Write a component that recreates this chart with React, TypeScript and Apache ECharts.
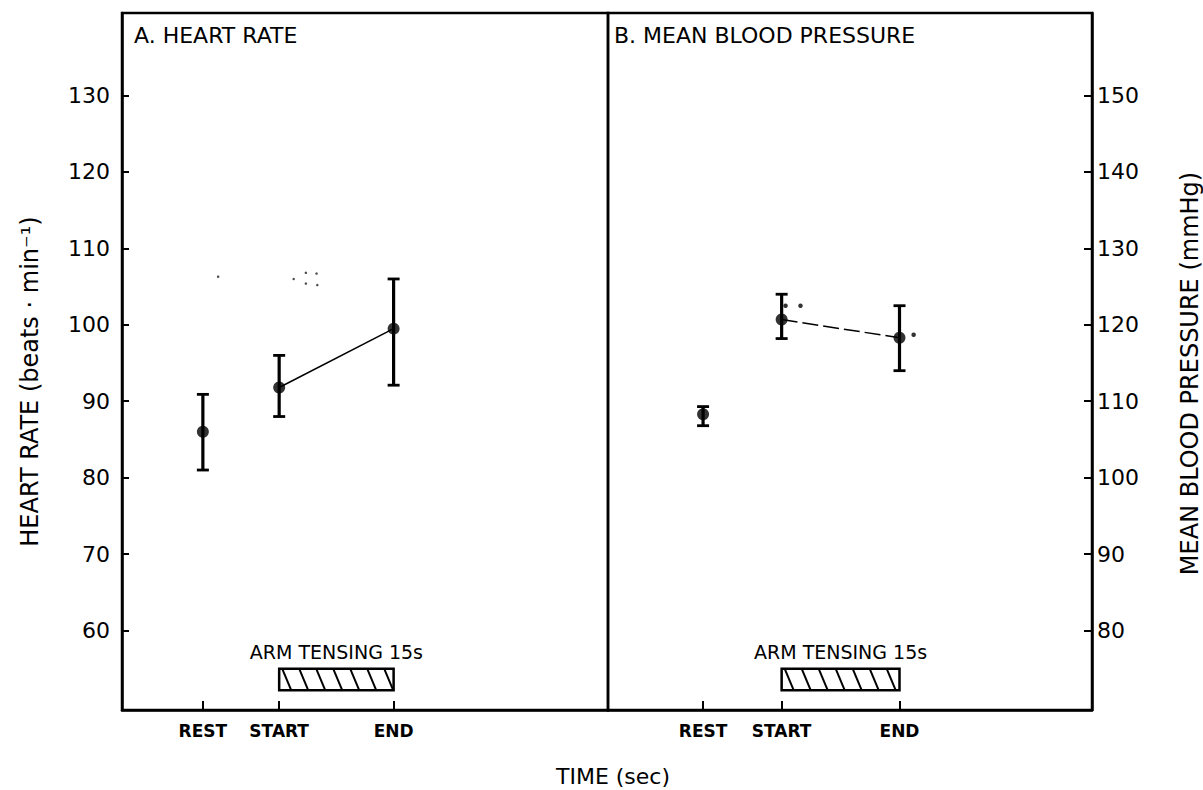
import React, { useEffect, useRef } from 'react';
import * as echarts from 'echarts';

// ---- data ----
const timePoints = [-10, 0, 15];
const timeLabels = ['REST', 'START', 'END'];

const hrMean = [86.0, 91.8, 99.5];
const hrLow = [81.0, 88.0, 92.1];
const hrHigh = [90.9, 96.0, 106.0];

const mbpMean = [108.3, 120.7, 118.3];
const mbpLow = [106.8, 118.2, 114.0];
const mbpHigh = [109.3, 124.0, 122.5];

const hrTicks = [60, 70, 80, 90, 100, 110, 120, 130];
const mbpTicks = [80, 90, 100, 110, 120, 130, 140, 150];

const tensingLabel = 'ARM TENSING 15s';
const tensingSpan = [0, 15];
const hrTensingBand = [52.2, 55.0];
const mbpTensingBand = [72.2, 75.0];

const hrSigMarks = [
  [-8.0, 106.3],
  [1.9, 106.0],
  [3.5, 106.8],
  [3.5, 105.4],
  [4.9, 106.7],
  [5.0, 105.2],
];
const mbpSigMarks = [
  [0.5, 122.5],
  [2.4, 122.5],
  [16.8, 118.7],
];

const FONT = 'DejaVu Sans';

const fmtTime = (v: number) => {
  const i = timePoints.indexOf(v);
  return i >= 0 ? timeLabels[i] : '';
};

function errorBarItem(params: any, api: any) {
  const x = api.value(0);
  const lo = api.coord([x, api.value(1)]);
  const hi = api.coord([x, api.value(2)]);
  const cap = 6;
  return {
    type: 'group',
    children: [
      { type: 'line', shape: { x1: lo[0], y1: lo[1], x2: hi[0], y2: hi[1] }, style: { stroke: '#000', lineWidth: 3.2 } },
      { type: 'line', shape: { x1: hi[0] - cap, y1: hi[1], x2: hi[0] + cap, y2: hi[1] }, style: { stroke: '#000', lineWidth: 2.8 } },
      { type: 'line', shape: { x1: lo[0] - cap, y1: lo[1], x2: lo[0] + cap, y2: lo[1] }, style: { stroke: '#000', lineWidth: 2.8 } },
    ],
  };
}

function hatchItem(params: any, api: any) {
  const p0 = api.coord([api.value(0), api.value(3)]);
  const p1 = api.coord([api.value(1), api.value(2)]);
  const left = p0[0], top = p0[1], right = p1[0], bottom = p1[1];
  const h = bottom - top;
  const sp = 17;
  const dx = 9;
  const children: any[] = [
    { type: 'rect', shape: { x: left, y: top, width: right - left, height: h }, style: { fill: '#fff', stroke: '#000', lineWidth: 2.5 } },
  ];
  for (let xt = left - sp + 3; xt < right; xt += sp) {
    const t0 = Math.max(0, (left - xt) / dx);
    const t1 = Math.min(1, (right - xt) / dx);
    if (t1 <= t0) continue;
    children.push({
      type: 'line',
      shape: { x1: xt + t0 * dx, y1: top + t0 * h, x2: xt + t1 * dx, y2: top + t1 * h },
      style: { stroke: '#000', lineWidth: 2 },
    });
  }
  children.push({
    type: 'text',
    x: (left + right) / 2,
    y: top - 7,
    style: { text: tensingLabel, textAlign: 'center', textVerticalAlign: 'bottom', font: `19px "${FONT}"`, fill: '#000' },
  });
  return { type: 'group', children };
}

function buildOption() {
  const axisLine = { show: true, onZero: false, lineStyle: { color: '#000', width: 2.5 } };
  const xAxisCommon = (gridIndex: number, min: number, max: number) => ({
    gridIndex,
    type: 'value',
    min,
    max,
    axisLine,
    splitLine: { show: false },
    axisTick: { show: true, inside: true, length: 9, customValues: timePoints, lineStyle: { color: '#000', width: 2 } },
    axisLabel: {
      customValues: timePoints,
      formatter: fmtTime,
      fontFamily: FONT,
      fontWeight: 'bold',
      fontSize: 17,
      color: '#000',
      margin: 12,
    },
  });
  const yLabel = { fontFamily: FONT, fontSize: 22, color: '#000' };
  const titleStyle = { fontFamily: FONT, fontSize: 22, fontWeight: 'normal', color: '#000' };
  return {
    animation: false,
    backgroundColor: '#fff',
    title: [
      { text: 'A. HEART RATE', left: 134, top: 24, padding: 0, textStyle: titleStyle },
      { text: 'B. MEAN BLOOD PRESSURE', left: 614, top: 24, padding: 0, textStyle: titleStyle },
    ],
    grid: [
      { left: 122, top: 13, width: 486, height: 697, show: true, borderColor: '#000', borderWidth: 2.5, backgroundColor: 'transparent' },
      { left: 608, top: 13, width: 485, height: 697, show: true, borderColor: '#000', borderWidth: 2.5, backgroundColor: 'transparent' },
    ],
    xAxis: [xAxisCommon(0, -20.6, 43.1), xAxisCommon(1, -22.1, 39.5)],
    yAxis: [
      {
        gridIndex: 0,
        type: 'value',
        position: 'left',
        min: 49.6,
        max: 140.8,
        axisLine,
        splitLine: { show: false },
        axisTick: { show: true, inside: true, length: 7, customValues: hrTicks, lineStyle: { color: '#000', width: 2 } },
        axisLabel: { ...yLabel, margin: 12, customValues: hrTicks },
        name: 'HEART RATE (beats · min⁻¹)',
        nameLocation: 'middle',
        nameRotate: 90,
        nameGap: 80,
        nameTextStyle: { fontFamily: FONT, fontSize: 24, color: '#000', padding: [0, 40, 0, 0] },
      },
      {
        gridIndex: 1,
        type: 'value',
        position: 'right',
        min: 69.6,
        max: 160.8,
        axisLine,
        splitLine: { show: false },
        axisTick: { show: true, inside: true, length: 8, customValues: mbpTicks, lineStyle: { color: '#000', width: 2 } },
        axisLabel: { ...yLabel, margin: 5, customValues: mbpTicks },
        name: 'MEAN BLOOD PRESSURE (mmHg)',
        nameLocation: 'middle',
        nameRotate: 90,
        nameGap: 86,
        nameTextStyle: { fontFamily: FONT, fontSize: 24, color: '#000', padding: [0, 24, 0, 0] },
      },
    ],
    graphic: [
      {
        type: 'text',
        x: 613,
        y: 776,
        style: { text: 'TIME (sec)', textAlign: 'center', textVerticalAlign: 'middle', font: `22px "${FONT}"`, fill: '#000' },
      },
    ],
    series: [
      // Panel A
      {
        type: 'custom', xAxisIndex: 0, yAxisIndex: 0, renderItem: hatchItem,
        data: [[tensingSpan[0], tensingSpan[1], hrTensingBand[0], hrTensingBand[1]]],
        silent: true,
      },
      {
        type: 'line', xAxisIndex: 0, yAxisIndex: 0, showSymbol: false, symbol: 'none',
        lineStyle: { color: '#000', width: 1.5 },
        data: timePoints.slice(1).map((t, i) => [t, hrMean[i + 1]]),
      },
      {
        type: 'custom', xAxisIndex: 0, yAxisIndex: 0, renderItem: errorBarItem,
        data: timePoints.map((t, i) => [t, hrLow[i], hrHigh[i]]),
      },
      {
        type: 'scatter', xAxisIndex: 0, yAxisIndex: 0, symbol: 'circle', symbolSize: 12,
        itemStyle: { color: '#000' },
        data: timePoints.map((t, i) => [t, hrMean[i]]),
      },
      {
        type: 'scatter', xAxisIndex: 0, yAxisIndex: 0, symbol: 'circle', symbolSize: 2.5,
        itemStyle: { color: '#222' },
        data: hrSigMarks,
      },
      // Panel B
      {
        type: 'custom', xAxisIndex: 1, yAxisIndex: 1, renderItem: hatchItem,
        data: [[tensingSpan[0], tensingSpan[1], mbpTensingBand[0], mbpTensingBand[1]]],
        silent: true,
      },
      {
        type: 'line', xAxisIndex: 1, yAxisIndex: 1, showSymbol: false, symbol: 'none',
        lineStyle: { color: '#000', width: 1.5, type: [16, 5] },
        data: timePoints.slice(1).map((t, i) => [t, mbpMean[i + 1]]),
      },
      {
        type: 'custom', xAxisIndex: 1, yAxisIndex: 1, renderItem: errorBarItem,
        data: timePoints.map((t, i) => [t, mbpLow[i], mbpHigh[i]]),
      },
      {
        type: 'scatter', xAxisIndex: 1, yAxisIndex: 1, symbol: 'circle', symbolSize: 12,
        itemStyle: { color: '#000' },
        data: timePoints.map((t, i) => [t, mbpMean[i]]),
      },
      {
        type: 'scatter', xAxisIndex: 1, yAxisIndex: 1, symbol: 'circle', symbolSize: 4.5,
        itemStyle: { color: '#000' },
        data: mbpSigMarks,
      },
    ],
  };
}

export default function App() {
  const ref = useRef<HTMLDivElement>(null);
  useEffect(() => {
    if (!ref.current) return;
    const chart = echarts.init(ref.current, null, { renderer: 'svg' });
    chart.setOption(buildOption() as any);
    return () => chart.dispose();
  }, []);
  return (
    <div
      ref={ref}
      style={{ position: 'fixed', left: 0, top: 0, width: 1203, height: 790, background: '#fff' }}
    />
  );
}
